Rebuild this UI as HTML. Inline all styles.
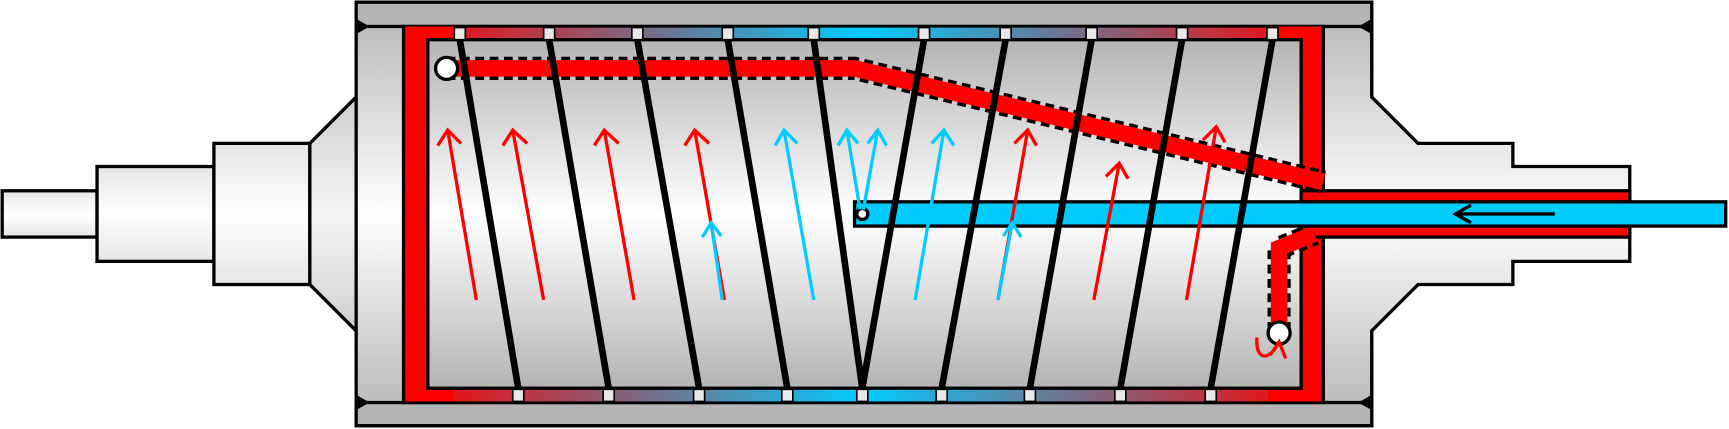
<!DOCTYPE html>
<html><head><style>html,body{margin:0;padding:0;background:#fff}svg{display:block}</style></head>
<body>
<svg width="1729" height="429" viewBox="0 0 1568 389" preserveAspectRatio="none" xmlns="http://www.w3.org/2000/svg">
<defs>
<linearGradient id="v" x1="0" y1="0" x2="0" y2="1">
<stop offset="0" stop-color="#b4b4b4"/><stop offset="0.5" stop-color="#ffffff"/><stop offset="1" stop-color="#b4b4b4"/></linearGradient>
<linearGradient id="vu" x1="0" y1="2" x2="0" y2="386" gradientUnits="userSpaceOnUse">
<stop offset="0" stop-color="#b4b4b4"/><stop offset="0.5" stop-color="#ffffff"/><stop offset="1" stop-color="#b4b4b4"/></linearGradient>
<linearGradient id="sh" x1="0" y1="0" x2="0" y2="1">
<stop offset="0" stop-color="#e6e6e6"/><stop offset="0.5" stop-color="#ffffff"/><stop offset="1" stop-color="#e6e6e6"/></linearGradient>
<linearGradient id="cone" x1="0" y1="0" x2="0" y2="1">
<stop offset="0" stop-color="#cfcfcf"/><stop offset="0.5" stop-color="#f5f5f5"/><stop offset="1" stop-color="#cfcfcf"/></linearGradient>
<linearGradient id="band" x1="366" y1="0" x2="1200" y2="0" gradientUnits="userSpaceOnUse">
<stop offset="0" stop-color="#ff0000"/><stop offset="0.5" stop-color="#00ccff"/><stop offset="1" stop-color="#ff0000"/></linearGradient>
</defs>
<g stroke="#000" stroke-width="3">
<rect x="2" y="173" width="86" height="42" fill="url(#sh)"/>
<rect x="88" y="151" width="106" height="86" fill="url(#sh)"/>
<rect x="194" y="130" width="87" height="128" fill="url(#sh)"/>
<polygon points="281,130 323,88 323,300 281,258" fill="url(#cone)"/>
<rect x="323" y="2" width="921" height="384" fill="url(#vu)"/>
<path d="M1240,24 L1244,24 L1244,88 L1286,130 L1372,130 L1372,151 L1478,151 L1478,237 L1372,237 L1372,258 L1286,258 L1244,300 L1244,365 L1240,365" fill="url(#vu)"/>
<rect x="323" y="2" width="921" height="22" fill="#b5b5b5"/>
<rect x="323" y="365" width="921" height="21" fill="#b5b5b5"/>
<rect x="366" y="24" width="834" height="341" fill="#ff0000"/>
</g>
<polygon points="323,17 335,24 323,31" fill="#000"/>
<polygon points="323,358 335,365 323,372" fill="#000"/>
<polygon points="1244,17 1232,24 1244,31" fill="#000"/>
<polygon points="1244,358 1232,365 1244,372" fill="#000"/>
<rect x="366" y="25" width="834" height="11" fill="url(#band)"/>
<rect x="366" y="353" width="834" height="11" fill="url(#band)"/>
<rect x="366" y="24" width="45" height="340" fill="#ff0000"/>
<rect x="1150" y="24" width="50" height="340" fill="#ff0000"/>
<rect x="388" y="36" width="792" height="316" fill="url(#v)" stroke="#000" stroke-width="3"/>
<line x1="366" y1="24" x2="366" y2="365" stroke="#000" stroke-width="3"/>
<line x1="1200" y1="24" x2="1200" y2="365" stroke="#000" stroke-width="3"/>
<rect x="1180" y="173" width="298" height="42" fill="#ff0000" stroke="#000" stroke-width="3"/>
<g fill="#e8e8e8" stroke="#000" stroke-width="1.5">
<rect x="412" y="25" width="10" height="11"/><rect x="493" y="25" width="10" height="11"/><rect x="573" y="25" width="10" height="11"/><rect x="655" y="25" width="10" height="11"/><rect x="733" y="25" width="10" height="11"/><rect x="833" y="25" width="10" height="11"/><rect x="907" y="25" width="10" height="11"/><rect x="985" y="25" width="10" height="11"/><rect x="1067" y="25" width="10" height="11"/><rect x="1149" y="25" width="10" height="11"/>
<rect x="465" y="353" width="10" height="11"/><rect x="547" y="353" width="10" height="11"/><rect x="629" y="353" width="10" height="11"/><rect x="709" y="353" width="10" height="11"/><rect x="777" y="353" width="10" height="11"/><rect x="849" y="353" width="10" height="11"/><rect x="929" y="353" width="10" height="11"/><rect x="1011" y="353" width="10" height="11"/><rect x="1093" y="353" width="10" height="11"/>
</g>
<path d="M405,62 L775,62 L1200,165" fill="none" stroke="#000" stroke-width="21" stroke-dasharray="8,5"/>
<path d="M405,62 L775,62 L1200,165" fill="none" stroke="#ff0000" stroke-width="15"/>
<path d="M1160,300 L1160,225 L1192,212" fill="none" stroke="#000" stroke-width="21" stroke-dasharray="8,5"/>
<path d="M1160,300 L1160,225 L1192,212" fill="none" stroke="#ff0000" stroke-width="15"/>
<rect x="775" y="183" width="790" height="22" fill="#00ccff" stroke="#000" stroke-width="3"/>
<g stroke="#000" stroke-width="6" fill="none">
<line x1="417" y1="36" x2="470" y2="352"/><line x1="498" y1="36" x2="552" y2="352"/><line x1="578" y1="36" x2="634" y2="352"/><line x1="660" y1="36" x2="714" y2="352"/><line x1="738" y1="36" x2="782" y2="352"/>
<line x1="838" y1="36" x2="782" y2="352"/><line x1="912" y1="36" x2="854" y2="352"/><line x1="990" y1="36" x2="934" y2="352"/><line x1="1072" y1="36" x2="1016" y2="352"/><line x1="1154" y1="36" x2="1098" y2="352"/>
</g>
<circle cx="782" cy="194" r="5" fill="#fff" stroke="#000" stroke-width="3"/>
<circle cx="405" cy="62" r="10" fill="#fff" stroke="#000" stroke-width="3"/>
<circle cx="1160" cy="302" r="10" fill="#fff" stroke="#000" stroke-width="3"/>
<g fill="none" stroke-width="3">
<g stroke="#ff0000">
<path d="M432,272 L406,118 M397,132 L406,118 L418,130"/>
<path d="M493,272 L465,118 M456,132 L465,118 L478,130"/>
<path d="M575,272 L548,118 M539,132 L548,118 L561,130"/>
<path d="M657,272 L630,118 M621,132 L630,118 L643,130"/>
<path d="M905,272 L932,118 M920,130 L932,118 L940,132"/>
<path d="M992,272 L1015,148 M1003,160 L1015,148 L1023,162"/>
<path d="M1076,272 L1103,115 M1091,127 L1103,115 L1111,129"/>
<path d="M1140,306 C1138,325 1150,330 1160,310 M1152,322 L1160,310 L1166,325"/>
</g>
<g stroke="#00ccff">
<path d="M655,272 L645,202 M637,215 L645,202 L654,214"/>
<path d="M738,272 L711,118 M703,132 L711,118 L723,130"/>
<path d="M780,190 L768,118 M760,132 L768,118 L778,130"/>
<path d="M783,190 L796,118 M787,130 L796,118 L804,132"/>
<path d="M830,272 L856,118 M845,130 L856,118 L865,132"/>
<path d="M905,272 L918,202 M910,214 L918,202 L926,215"/>
</g>
<path d="M1410,194 L1320,194 M1334,186 L1320,194 L1334,202" stroke="#000" stroke-width="3"/>
</g>
</svg>
</body></html>
